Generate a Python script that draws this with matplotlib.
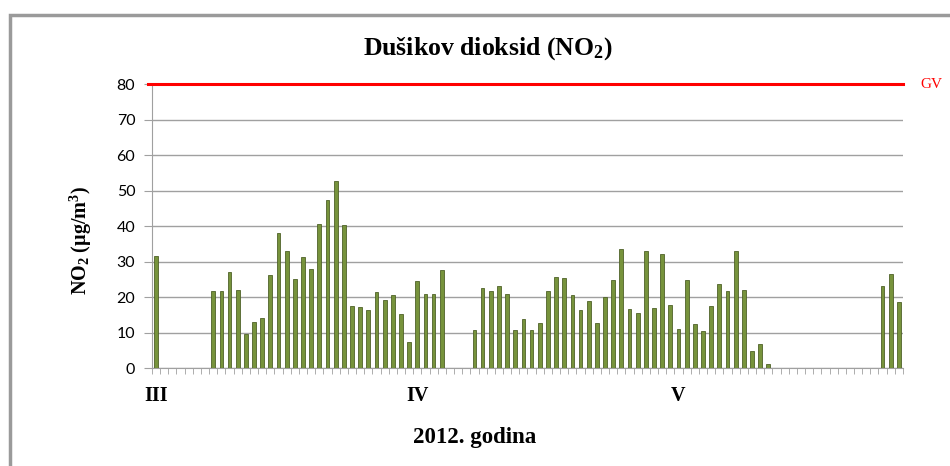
import numpy as np
import matplotlib.pyplot as plt
from matplotlib.patches import Rectangle

# daily NO2 values, 1 March - 31 May 2012 (0 = no data)
march = [31.5, 0, 0, 0, 0, 0, 0, 21.8, 21.8, 27.1, 22.1, 9.5, 12.9, 14.0, 26.3,
         37.9, 32.9, 25.2, 31.3, 28.0, 40.6, 47.3, 52.7, 40.3, 17.5, 17.3, 16.4,
         21.5, 19.2, 20.5, 15.2]
april = [7.4, 24.4, 20.9, 20.9, 27.6, 0, 0, 0, 10.6, 22.5, 21.6, 23.0, 20.9, 10.6,
         13.9, 10.6, 12.6, 21.6, 25.7, 25.3, 20.5, 16.4, 18.8, 12.6, 19.9, 24.9,
         33.4, 16.7, 15.5, 33.1]
may = [17.0, 32.2, 17.8, 11.1, 24.7, 12.3, 10.3, 17.5, 23.6, 21.6, 32.9, 22.1, 4.9,
       6.9, 1.0, 0, 0, 0, 0, 0, 0, 0, 0, 0, 0, 0, 0, 0, 23.1, 26.4, 18.6]
values = march + april + may
month_labels = ["III", "IV", "V"]
month_label_pos = [0, 32, 64]
limit_value = 80  # GV

serif = ["Liberation Serif", "DejaVu Serif"]
plt.rcParams["mathtext.fontset"] = "custom"
plt.rcParams["mathtext.rm"] = "Liberation Serif:bold"
plt.rcParams["mathtext.it"] = "Liberation Serif:bold"
plt.rcParams["mathtext.bf"] = "Liberation Serif:bold"

fig = plt.figure(figsize=(9.5, 4.66), dpi=100)
ax = fig.add_axes([0.16, 0.2103, 0.7905, 0.6094])

# chart border (only top/left visible in the original crop)
fig.patches.append(Rectangle((10 / 950, -0.1), 1.2, 1.1 - 15 / 466, transform=fig.transFigure,
                             fill=False, edgecolor="#9a9a9a", linewidth=2.5))

x = np.arange(len(values))
ax.bar(x, values, width=0.46, color="#77933c", edgecolor="#4f6228", linewidth=0.6, zorder=3)
ax.axhline(limit_value, color="#ff0000", linewidth=2.2, zorder=4, xmin=-0.005, clip_on=False)
ax.text(len(values) + 1.6, limit_value, "GV", color="#ff0000", fontsize=11, family=serif,
        va="center", ha="left")

ax.set_xlim(-0.5, len(values) - 0.5)
ax.set_ylim(0, 80)
ax.set_yticks(range(0, 81, 10))
ax.grid(axis="y", color="#a0a0a0", linewidth=1.0, zorder=0)
ax.tick_params(axis="y", labelsize=11.5, length=6, color="#a0a0a0", pad=6)
for lab in ax.get_yticklabels():
    lab.set_family(["Lato", "DejaVu Sans"])

ax.set_xticks(month_label_pos)
ax.set_xticklabels(month_labels, family=serif, fontweight="bold", fontsize=14.5)
ax.set_xticks(np.arange(-0.5, len(values), 1), minor=True)
ax.tick_params(axis="x", which="major", length=0, pad=13)
ax.tick_params(axis="x", which="minor", length=4, color="#a0a0a0")

for side in ["top", "right"]:
    ax.spines[side].set_visible(False)
ax.spines["left"].set_color("#a0a0a0")
ax.spines["bottom"].set_color("#a0a0a0")

fig.text(0.513, 0.896, "Dušikov dioksid (NO$_2$)", family=serif, fontweight="bold",
         fontsize=18.5, ha="center", va="center")
fig.text(0.085, 0.485, "NO$_2$ (µg/m$^3$)", family=serif, fontweight="bold", fontsize=14.5,
         rotation=90, ha="center", va="center")
fig.text(0.5, 0.062, "2012. godina", family=serif, fontweight="bold", fontsize=16.5,
         ha="center", va="center")

fig.savefig("out.png", dpi=100)
